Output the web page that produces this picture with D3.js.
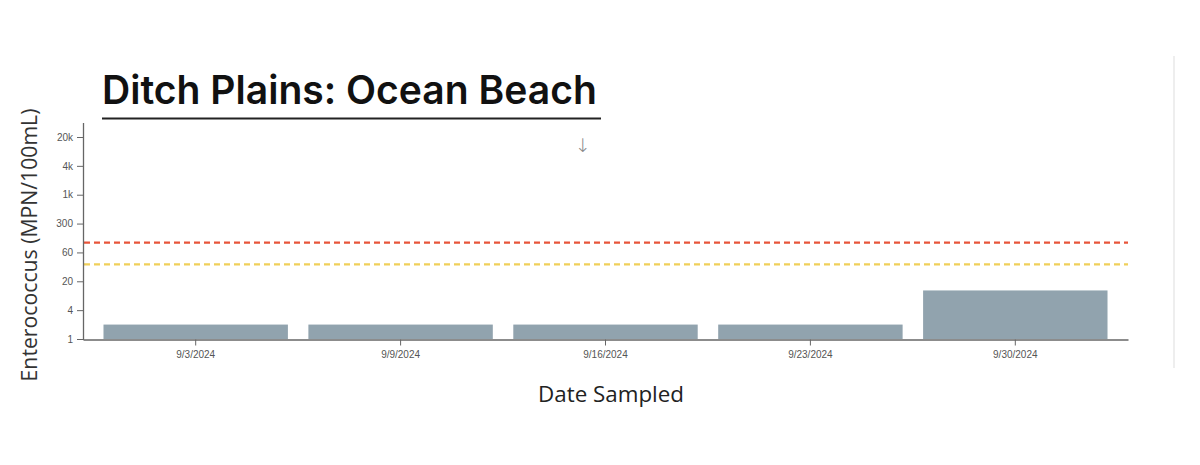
<!DOCTYPE html>
<html>
<head>
<meta charset="utf-8">
<script src="https://cdn.jsdelivr.net/npm/d3@7/dist/d3.min.js"></script>
<style>
  html, body { margin: 0; padding: 0; background: #ffffff; }
  svg { display: block; }
</style>
</head>
<body>
<div id="chart"></div>
<script>
// ---- data ----
const dates = ["9/3/2024", "9/9/2024", "9/16/2024", "9/23/2024", "9/30/2024"];
const values = [2, 2, 2, 2, 12];
const yTicks = [1, 4, 20, 60, 300, 1000, 4000, 20000];
const yTickLabels = ["1", "4", "20", "60", "300", "1k", "4k", "20k"];
const thresholds = [104, 38];
const thresholdColors = ["#e8553a", "#f0cf5a"];
const titleText = "Ditch Plains: Ocean Beach";
const yLabel = "Enterococcus (MPN/100mL)";
const xLabel = "Date Sampled";

// ---- layout ----
const W = 1200, H = 465;
const plot = { left: 83, right: 1128, bottom: 339, top: 137, axisTop: 123 };

const svg = d3.select("#chart").append("svg")
  .attr("width", W).attr("height", H);

// right faint border
svg.append("line")
  .attr("x1", 1174).attr("x2", 1174).attr("y1", 56).attr("y2", 368)
  .attr("stroke", "#eeeeee").attr("stroke-width", 2);

// scales
const x = d3.scaleBand().domain(dates)
  .range([plot.left, plot.right]).paddingInner(0.1).paddingOuter(0.1);

const step = (plot.bottom - plot.top) / (yTicks.length - 1);
const yLog = d3.scaleLinear()
  .domain(yTicks.map(Math.log10))
  .range(yTicks.map((d, i) => plot.bottom - i * step));
const y = v => yLog(Math.log10(v));

// bars
svg.append("g").selectAll("rect").data(values).join("rect")
  .attr("x", (d, i) => x(dates[i]))
  .attr("width", x.bandwidth())
  .attr("y", d => y(d))
  .attr("height", d => y(1) - y(d))
  .attr("fill", "#91a3ae");

// thresholds
svg.append("g").selectAll("line").data(thresholds).join("line")
  .attr("x1", plot.left + 1).attr("x2", plot.right)
  .attr("y1", d => y(d)).attr("y2", d => y(d))
  .attr("stroke", (d, i) => thresholdColors[i])
  .attr("stroke-width", 2.2)
  .attr("stroke-dasharray", "6,4");

// y axis
const yAxis = d3.axisLeft(yLog)
  .tickValues(yTicks.map(Math.log10))
  .tickFormat((d, i) => yTickLabels[i])
  .tickSize(6).tickPadding(4);
const gy = svg.append("g").attr("transform", `translate(${plot.left},0)`).call(yAxis);
gy.select(".domain").remove();
gy.selectAll(".tick line").attr("stroke", "#666");
gy.selectAll(".tick text").attr("fill", "#555")
  .style("font-family", "Liberation Sans, Arial, sans-serif").style("font-size", "10px");
svg.append("line")
  .attr("x1", plot.left + 0.5).attr("x2", plot.left + 0.5)
  .attr("y1", plot.axisTop).attr("y2", plot.bottom + 1)
  .attr("stroke", "#666").attr("stroke-width", 1.3);

// x axis
const xAxis = d3.axisBottom(x).tickSize(6).tickSizeOuter(0).tickPadding(5);
const gx = svg.append("g").attr("transform", `translate(0,${plot.bottom + 0.5})`).call(xAxis);
gx.select(".domain").attr("stroke", "#666").attr("stroke-width", 1.3);
gx.selectAll(".tick line").attr("stroke", "#666");
gx.selectAll(".tick text").attr("fill", "#555")
  .style("font-family", "Liberation Sans, Arial, sans-serif").style("font-size", "10px");

// title
const title = svg.append("text")
  .attr("x", 102).attr("y", 104)
  .attr("fill", "#111")
  .style("font-family", "Inter, 'Open Sans', sans-serif")
  .style("font-weight", 600)
  .style("font-size", "38px")
  .text(titleText);
const tw = title.node().getComputedTextLength();
title.style("font-size", (38 * 495 / tw) + "px");

svg.append("line")
  .attr("x1", 102).attr("x2", 601).attr("y1", 118.5).attr("y2", 118.5)
  .attr("stroke", "#222").attr("stroke-width", 2);

// arrow
svg.append("text")
  .attr("x", 583).attr("y", 152).attr("text-anchor", "middle")
  .attr("fill", "#888")
  .style("font-family", "DejaVu Sans, sans-serif")
  .style("font-size", "19px").style("font-weight", 300)
  .text("↓");

// axis labels
const yl = svg.append("text")
  .attr("transform", "translate(37,245) rotate(-90)")
  .attr("text-anchor", "middle")
  .attr("fill", "#333")
  .style("font-family", "'Open Sans', sans-serif")
  .style("font-size", "20px")
  .text(yLabel);
yl.style("font-size", (20 * 273 / yl.node().getComputedTextLength()) + "px");

const xl = svg.append("text")
  .attr("x", 611).attr("y", 402).attr("text-anchor", "middle")
  .attr("fill", "#222")
  .style("font-family", "'Open Sans', sans-serif")
  .style("font-size", "21px")
  .text(xLabel);
xl.style("font-size", (21 * 146 / xl.node().getComputedTextLength()) + "px");
</script>
</body>
</html>
